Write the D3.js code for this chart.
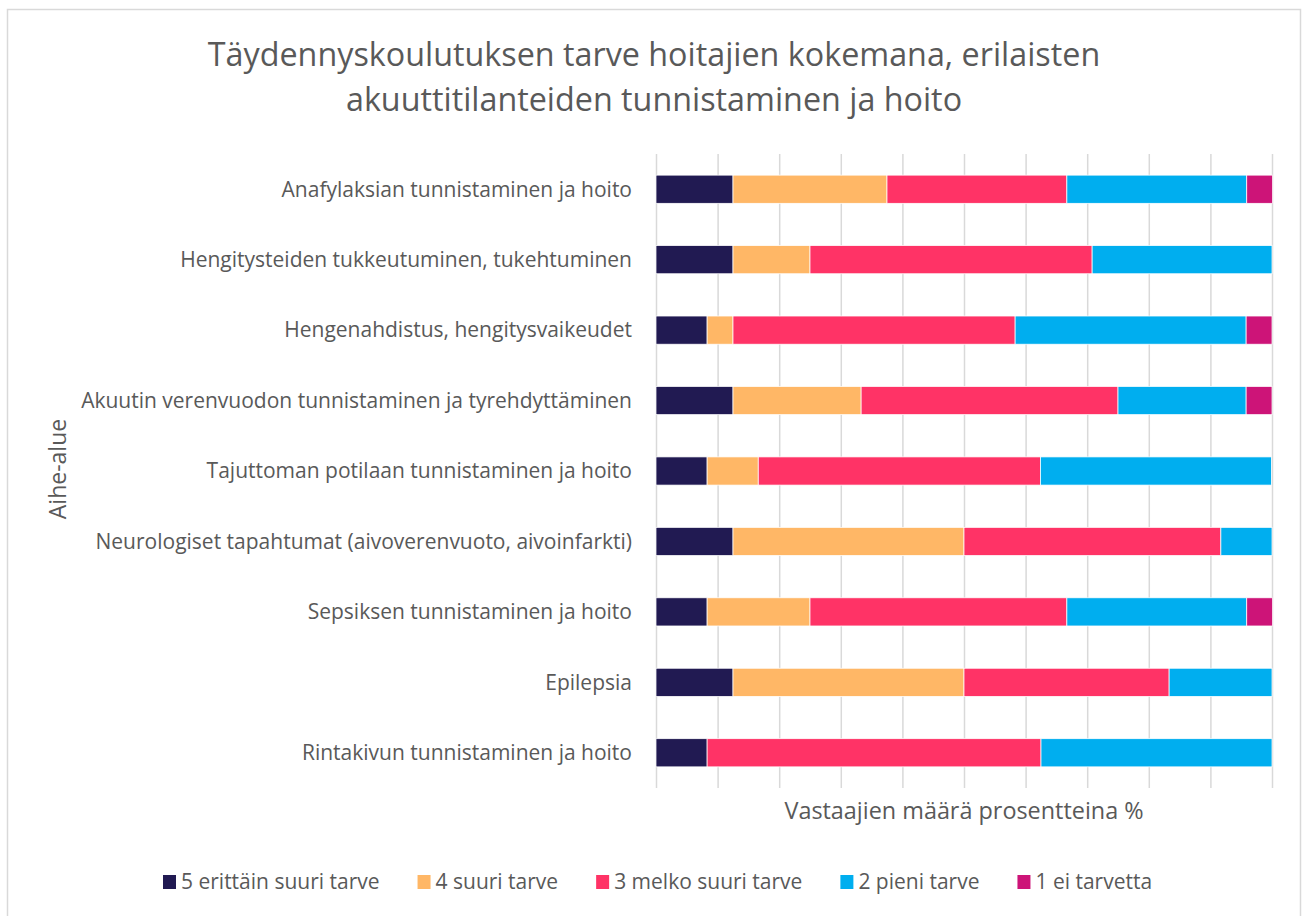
<!DOCTYPE html>
<html>
<head>
<meta charset="utf-8">
<script src="https://cdn.jsdelivr.net/npm/d3@7"></script>
<style>
  body { margin: 0; background: #fff; }
  svg { display: block; font-family: "Open Sans", sans-serif; }
</style>
</head>
<body>
<svg width="1302" height="916"></svg>
<script>
// topics, top to bottom
var categories = [
  "Anafylaksian tunnistaminen ja hoito",
  "Hengitysteiden tukkeutuminen, tukehtuminen",
  "Hengenahdistus, hengitysvaikeudet",
  "Akuutin verenvuodon tunnistaminen ja tyrehdyttäminen",
  "Tajuttoman potilaan tunnistaminen ja hoito",
  "Neurologiset tapahtumat (aivoverenvuoto, aivoinfarkti)",
  "Sepsiksen tunnistaminen ja hoito",
  "Epilepsia",
  "Rintakivun tunnistaminen ja hoito"
]

var seriesNames = ["5 erittäin suuri tarve", "4 suuri tarve", "3 melko suuri tarve", "2 pieni tarve", "1 ei tarvetta"]
var seriesColors = ["#211a52", "#ffb766", "#ff3366", "#00aeef", "#cd1478"]

// percentages per series, same order as categories
var s5 = [12.5, 12.5, 8.3, 12.5, 8.3, 12.5, 8.3, 12.5, 8.3]
var s4 = [25.0, 12.5, 4.2, 20.8, 8.3, 37.5, 16.7, 37.5, 0]
var s3 = [29.2, 45.8, 45.8, 41.7, 45.8, 41.7, 41.7, 33.3, 54.2]
var s2 = [29.2, 29.2, 37.5, 20.8, 37.5, 8.3, 29.2, 16.7, 37.5]
var s1 = [4.2, 0, 4.2, 4.2, 0, 0, 4.2, 0, 0]

var titleLines = ["Täydennyskoulutuksen tarve hoitajien kokemana, erilaisten", "akuuttitilanteiden tunnistaminen ja hoito"]
var xTitle = "Vastaajien määrä prosentteina %"
var yTitle = "Aihe-alue"
var xTicks = [0, 10, 20, 30, 40, 50, 60, 70, 80, 90, 100]

var rows = categories.map(function (c, i) {
  return { cat: c, s5: s5[i], s4: s4[i], s3: s3[i], s2: s2[i], s1: s1[i] }
})
var keys = ["s5", "s4", "s3", "s2", "s1"]

var textColor = "#595959"
var svg = d3.select("svg")

// chart border
svg.append("rect")
  .attr("x", 7.5).attr("y", 9.5)
  .attr("width", 1293).attr("height", 920)
  .attr("fill", "none").attr("stroke", "#d9d9d9").attr("stroke-width", 1.5)

var margin = { left: 656, right: 30, top: 154, bottom: 128 }
var W = 1302, H = 916

var x = d3.scaleLinear().domain([0, 100]).range([margin.left, W - margin.right])
var y = d3.scaleBand().domain(categories).range([margin.top, H - margin.bottom])
  .paddingInner(0.6).paddingOuter(0.3)

// vertical gridlines
svg.append("g")
  .attr("transform", "translate(0," + (H - margin.bottom) + ")")
  .call(d3.axisBottom(x).tickValues(xTicks).tickSize(-(H - margin.bottom - margin.top)).tickFormat(""))
  .call(function (g) { g.select(".domain").remove() })
  .call(function (g) {
    g.selectAll(".tick line").attr("stroke", "#d9d9d9").attr("stroke-width", 1.5)
  })

var stacked = d3.stack().keys(keys)(rows)

svg.append("g").selectAll("g")
  .data(stacked)
  .enter().append("g")
    .attr("fill", function (d, i) { return seriesColors[i] })
  .selectAll("rect")
  .data(function (d) { return d })
  .enter().append("rect")
    .attr("x", function (d) { return x(d[0]) })
    .attr("y", function (d) { return y(d.data.cat) })
    .attr("width", function (d) { return x(d[1]) - x(d[0]) })
    .attr("height", y.bandwidth())
    .attr("stroke", "#fff")
    .attr("stroke-width", function (d) { return d[1] > d[0] ? 0.75 : 0 })

// category labels
svg.append("g").selectAll("text")
  .data(categories)
  .enter().append("text")
    .attr("x", margin.left - 24)
    .attr("y", function (d) { return y(d) + y.bandwidth() / 2 })
    .attr("dy", "0.35em")
    .attr("text-anchor", "end")
    .attr("font-size", 21)
    .attr("fill", textColor)
    .text(function (d) { return d })

// title
svg.append("g").selectAll("text")
  .data(titleLines)
  .enter().append("text")
    .attr("x", 654)
    .attr("y", function (d, i) { return 55 + i * 45 })
    .attr("dy", "0.35em")
    .attr("text-anchor", "middle")
    .attr("font-size", 32.3)
    .attr("fill", textColor)
    .text(function (d) { return d })

// axis titles
svg.append("text")
  .attr("x", (x(0) + x(100)) / 2)
  .attr("y", 811)
  .attr("dy", "0.35em")
  .attr("text-anchor", "middle")
  .attr("font-size", 23.4)
  .attr("fill", textColor)
  .text(xTitle)

svg.append("text")
  .attr("transform", "translate(58,469) rotate(-90)")
  .attr("dy", "0.35em")
  .attr("text-anchor", "middle")
  .attr("font-size", 23)
  .attr("fill", textColor)
  .text(yTitle)

// legend
var legend = svg.append("g").attr("transform", "translate(0,882)")
var lx = 163
seriesNames.forEach(function (name, i) {
  var item = legend.append("g").attr("transform", "translate(" + lx + ",0)")
  item.append("rect").attr("x", 0).attr("y", -7).attr("width", 13).attr("height", 14)
    .attr("fill", seriesColors[i])
  var t = item.append("text").attr("x", 18).attr("dy", "0.35em")
    .attr("font-size", 21).attr("fill", textColor).text(name)
  lx += 18 + t.node().getComputedTextLength() + 38
})
</script>
</body>
</html>
